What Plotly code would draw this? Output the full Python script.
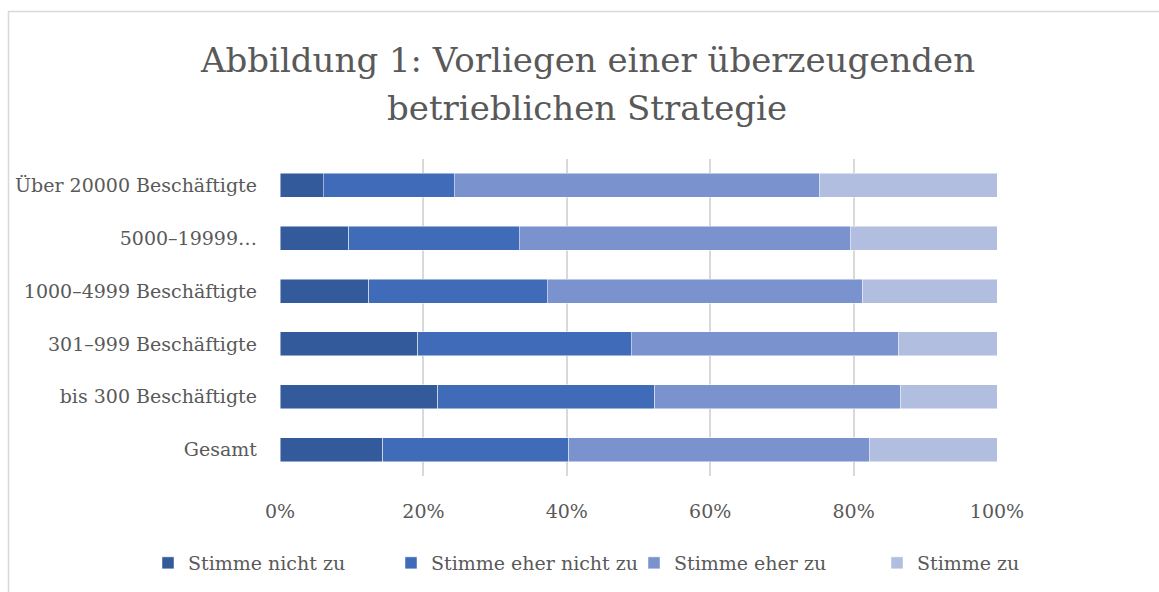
import plotly.graph_objects as go

categories = [
    "Über 20000 Beschäftigte",
    "5000–19999…",
    "1000–4999 Beschäftigte",
    "301–999 Beschäftigte",
    "bis 300 Beschäftigte",
    "Gesamt",
]
series_names = ["Stimme nicht zu", "Stimme eher nicht zu", "Stimme eher zu", "Stimme zu"]
stimme_nicht_zu = [6.0, 9.6, 12.4, 19.2, 22.0, 14.3]
stimme_eher_nicht_zu = [18.3, 23.8, 24.9, 29.8, 30.3, 26.0]
stimme_eher_zu = [50.9, 46.1, 44.0, 37.3, 34.3, 41.9]
stimme_zu = [24.8, 20.5, 18.7, 13.7, 13.4, 17.8]
tick_values = [0, 20, 40, 60, 80, 100]
tick_labels = ["0%", "20%", "40%", "60%", "80%", "100%"]

colors = ["#335a9a", "#3f6bb8", "#7a93ce", "#b2bedf"]
FONT = "DejaVu Serif"
TXT = "#595959"

fig = go.Figure()
for name, vals, col in zip(series_names,
                           [stimme_nicht_zu, stimme_eher_nicht_zu, stimme_eher_zu, stimme_zu],
                           colors):
    fig.add_trace(go.Bar(
        y=categories, x=vals, name=name, orientation="h",
        marker=dict(color=col, line=dict(color="rgba(255,255,255,0.6)", width=0.8)),
        hovertemplate="%{y}: %{x}%<extra>" + name + "</extra>",
    ))

L, R, T, B = 280, 162, 159, 116
W, H = 1159, 592
pw, ph = W - L - R, H - T - B

def px_x(p):
    return (p - L) / pw

def px_y(p):
    return (H - B - p) / ph

fig.update_layout(
    width=W, height=H,
    margin=dict(l=L, r=R, t=T, b=B, autoexpand=False),
    barmode="stack",
    bargap=0.547,
    plot_bgcolor="white",
    paper_bgcolor="white",
    font=dict(family=FONT, color=TXT, size=19),
    showlegend=True,
    legend=dict(
        orientation="h", xanchor="left", yanchor="middle",
        x=px_x(148), y=px_y(563),
        bgcolor="rgba(0,0,0,0)",
        entrywidth=198, entrywidthmode="pixels",
        font=dict(family=FONT, color=TXT, size=19),
        traceorder="normal",
        itemclick=False,
    ),
    xaxis=dict(
        range=[0, 100], tickvals=tick_values, ticktext=tick_labels,
        showgrid=True, gridcolor="#d9d9d9", gridwidth=2,
        zeroline=False, showline=False, ticks="",
        ticklabelstandoff=22,
        tickfont=dict(family=FONT, color=TXT, size=19),
    ),
    yaxis=dict(
        autorange="reversed", showgrid=False, zeroline=False, showline=False,
        ticks="", ticklabelstandoff=22,
        tickfont=dict(family=FONT, color=TXT, size=19),
    ),
    annotations=[
        dict(text="Abbildung 1: Vorliegen einer überzeugenden", xref="paper", yref="paper",
             x=px_x(587), y=px_y(60), xanchor="center", yanchor="middle", showarrow=False,
             font=dict(family=FONT, color=TXT, size=34)),
        dict(text="betrieblichen Strategie", xref="paper", yref="paper",
             x=px_x(587), y=px_y(108), xanchor="center", yanchor="middle", showarrow=False,
             font=dict(family=FONT, color=TXT, size=34)),
    ],
    shapes=[
        dict(type="rect", xref="paper", yref="paper",
             x0=px_x(8.5), x1=px_x(1175), y0=px_y(11.5), y1=px_y(610),
             line=dict(color="#d9d9d9", width=1.5), layer="below"),
    ],
)

fig.write_html("out.html")
